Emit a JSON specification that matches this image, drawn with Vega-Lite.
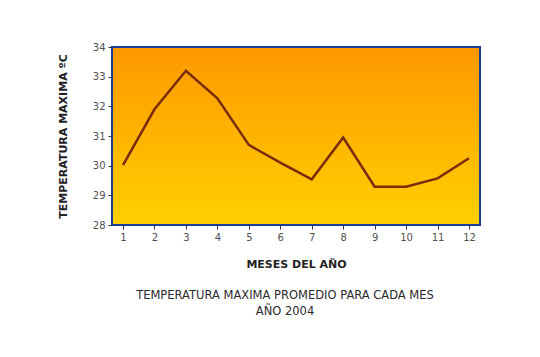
{
  "$schema": "https://vega.github.io/schema/vega-lite/v6.json",
  "autosize": {"type": "none"},
  "width": 368,
  "height": 178,
  "padding": {"left": 112, "top": 47, "right": 60, "bottom": 132},
  "background": "#ffffff",
  "title": {
    "text": ["TEMPERATURA MAXIMA PROMEDIO PARA CADA MES", "AÑO 2004"],
    "orient": "bottom",
    "anchor": "middle",
    "dx": -11,
    "offset": 21,
    "font": "DejaVu Sans",
    "fontSize": 11.5,
    "fontWeight": "normal",
    "color": "#2a2a2a",
    "lineHeight": 16
  },
  "data": {
    "values": [
      {"mes": 1, "temp": 30.02},
      {"mes": 2, "temp": 31.9},
      {"mes": 3, "temp": 33.2},
      {"mes": 4, "temp": 32.27},
      {"mes": 5, "temp": 30.7},
      {"mes": 6, "temp": 30.1},
      {"mes": 7, "temp": 29.54},
      {"mes": 8, "temp": 30.95},
      {"mes": 9, "temp": 29.29},
      {"mes": 10, "temp": 29.29},
      {"mes": 11, "temp": 29.57},
      {"mes": 12, "temp": 30.25}
    ]
  },
  "mark": {"type": "line", "color": "#7a2c0c", "strokeWidth": 2.5, "strokeJoin": "miter"},
  "encoding": {
    "x": {
      "field": "mes",
      "type": "ordinal",
      "scale": {"type": "point", "padding": 0.35},
      "axis": {
        "title": "MESES DEL AÑO",
        "labelAngle": 0,
        "titlePadding": 16
      }
    },
    "y": {
      "field": "temp",
      "type": "quantitative",
      "scale": {"domain": [28, 34], "nice": false, "zero": false},
      "axis": {
        "title": "TEMPERATURA MAXIMA ºC",
        "values": [28, 29, 30, 31, 32, 33, 34],
        "grid": false,
        "titlePadding": 24
      }
    }
  },
  "config": {
    "view": {
      "fill": {
        "gradient": "linear",
        "x1": 0, "y1": 0, "x2": 0, "y2": 1,
        "stops": [
          {"offset": 0, "color": "#ff9800"},
          {"offset": 1, "color": "#ffd000"}
        ]
      },
      "stroke": "#1c3c9c",
      "strokeWidth": 2
    },
    "axis": {
      "domain": false,
      "grid": false,
      "ticks": true,
      "tickColor": "#333333",
      "tickSize": 4,
      "labelFont": "DejaVu Sans",
      "labelFontSize": 10,
      "labelColor": "#505050",
      "labelPadding": 3,
      "titleFont": "DejaVu Sans",
      "titleFontSize": 11,
      "titleFontWeight": "bold",
      "titleColor": "#222222"
    }
  }
}
